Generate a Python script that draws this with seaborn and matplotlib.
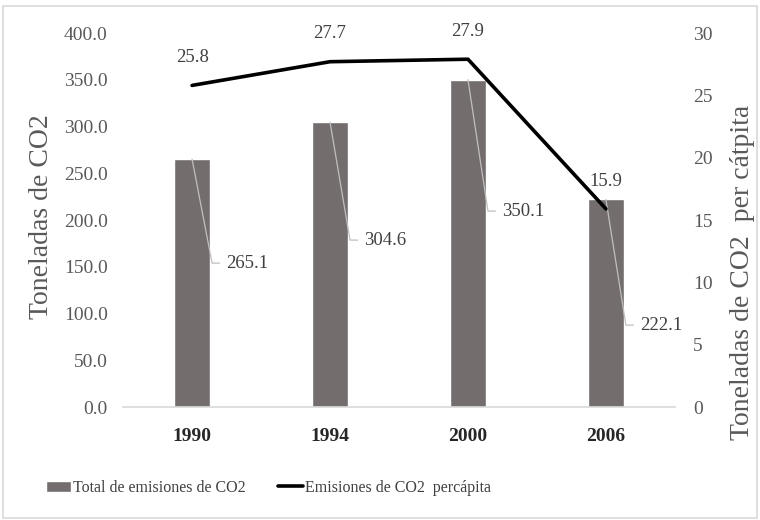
import numpy as np
import matplotlib
matplotlib.use("Agg")
import matplotlib.pyplot as plt
from matplotlib.patches import Rectangle
import seaborn as sns

years = ["1990", "1994", "2000", "2006"]
total = [265.1, 304.6, 350.1, 222.1]
per_capita = [25.8, 27.7, 27.9, 15.9]
# where Excel put the bar labels (left-axis units)
label_y = [154, 178.6, 209.6, 87.7]

sns.set_theme(style="white")
plt.rcParams["font.family"] = ["Liberation Serif", "DejaVu Serif"]

bar_color = "#736e6d"
grey_txt = "#595959"

fig = plt.figure(figsize=(7.6, 5.2), dpi=100)
ax = fig.add_axes([0.162, 0.217, 0.726, 0.7195])
sns.barplot(x=years, y=total, color=bar_color, saturation=1, width=0.265, ax=ax)

ax2 = ax.twinx()
sns.lineplot(x=np.arange(len(years)), y=per_capita, color="black", lw=2.6, ax=ax2)

ax.set_xlim(-0.5, len(years) - 0.5)
ax.set_ylim(0, 400)
ax2.set_ylim(0, 30)
ax.set_yticks(np.arange(0, 401, 50))
ax.set_yticklabels([f"{t:.1f}" for t in np.arange(0, 401, 50)])
ax2.set_yticks(np.arange(0, 31, 5))

ax.tick_params(axis="y", length=0, pad=11, labelsize=14, labelcolor=grey_txt)
ax2.tick_params(axis="y", length=0, pad=13, labelsize=14, labelcolor=grey_txt)
ax.tick_params(axis="x", length=0, pad=15, labelsize=14, labelcolor="#262626")
for t in ax.get_xticklabels():
    t.set_fontweight("bold")

for s in ["top", "left", "right"]:
    ax.spines[s].set_visible(False)
ax.spines["bottom"].set_color("#d9d9d9")
ax.spines["bottom"].set_linewidth(1.2)
for s in ax2.spines.values():
    s.set_visible(False)

ax.set_xlabel("")
ax.set_ylabel("Toneladas de CO2", fontsize=20, color=grey_txt)
ax.yaxis.set_label_coords(-0.125, 0.51)
ax2.set_ylabel("Toneladas de CO2  per cátpita", fontsize=20, color=grey_txt, rotation=90)
ax2.yaxis.set_label_coords(1.1, 0.36)

# bar labels with leader lines
for i, (v, ly) in enumerate(zip(total, label_y)):
    ax.plot([i, i + 0.145, i + 0.2], [v, ly, ly], color="#bfbfbf", lw=0.9, zorder=5)
    ax.text(i + 0.245, ly, f"{v:.1f}", ha="left", va="center", fontsize=13.5, color="#404040", zorder=6)

# line labels
for i, v in enumerate(per_capita):
    ax2.annotate(f"{v:.1f}", (i, v), xytext=(0, 20), textcoords="offset points",
                 ha="center", va="center", fontsize=13.5, color="#404040")

fig.legend([ax.patches[0], ax2.lines[0]],
           ["Total de emisiones de CO2", "Emisiones de CO2  percápita"],
           loc="center", bbox_to_anchor=(0.353, 0.0615), ncol=2, frameon=False,
           fontsize=11.5, handlelength=1.6, handleheight=0.7, handletextpad=0.1,
           columnspacing=2.0, labelcolor="#404040")

fig.add_artist(Rectangle((0.004, 0.004), 0.992, 0.984, transform=fig.transFigure,
                         fill=False, edgecolor="#d9d9d9", lw=1.2))

fig.savefig("out.png", dpi=100)
